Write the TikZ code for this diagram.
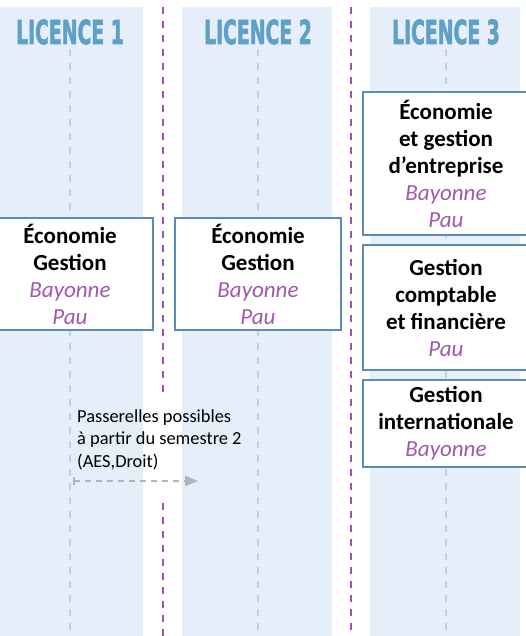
\documentclass[tikz,border=0pt]{standalone}
\usepackage{fontspec}
\setmainfont{Carlito}
\newfontfamily\titlefont{DejaVu Sans}[BoldFeatures={FakeBold=2.5}]
\usepackage{graphicx}
\usepackage{xcolor}
\usetikzlibrary{arrows.meta}
\definecolor{bandblue}{HTML}{E6EEFA}
\definecolor{titleblue}{HTML}{5FA0C8}
\definecolor{boxblue}{HTML}{5A8CB4}
\definecolor{axeblue}{HTML}{B9D2EB}
\definecolor{villepurple}{HTML}{A05AAA}
\definecolor{seppurple}{HTML}{A050B4}
\definecolor{passegray}{HTML}{B4B4B4}
\tikzstyle{sep}=[seppurple, line width=1.6pt, dash pattern=on 7pt off 7pt]
\tikzstyle{axe}=[axeblue, line width=1.3pt, dash pattern=on 7pt off 7pt]
\tikzstyle{titre}=[anchor=base, inner sep=0pt, text=titleblue, font=\titlefont\bfseries\fontsize{33}{33}\selectfont]
\tikzstyle{filiere}=[draw=boxblue, line width=1.5pt, fill=white, minimum width=166pt, align=center, inner sep=2pt, font=\fontsize{23}{27}\selectfont\bfseries]
\tikzstyle{passe}=[anchor=base west, inner sep=0pt, align=left, font=\fontsize{18.4}{22.5}\selectfont]
\tikzstyle{passerelle}=[passegray, line width=1.6pt, dash pattern=on 6pt off 5pt, {Bar[width=8pt]}-{Triangle[length=13pt,width=10pt]}]
\newcommand{\ville}[1]{{\mdseries\itshape\color{villepurple}#1}}

\begin{document}
\begin{tikzpicture}[x=1pt,y=-1pt]
\useasboundingbox (0,0) rectangle (525,636);
\foreach \a/\b in {0/143.3,182.3/331.7,370.3/520} {
	\fill[bandblue] (\a,7) rectangle (\b,636);
}
% separateurs (le premier coupe par les passerelles)
\foreach \x/\y/\z in {163/7/395,163/503/636,351/7/636} {
	\draw[sep] (\x,\y) -- (\x,\z);
}
\foreach \x/\n in {70/1,258/2,446/3} {
	\draw[axe] (\x,49) -- (\x,636);
	\node[titre] (titre\n) at (\x,44) {\scalebox{0.57}[1]{LICENCE \n}};
}
% licence 1 et 2
\node[filiere, minimum height=112pt] (eco1) at (70,274) {Économie\\Gestion\\\ville{Bayonne}\\\ville{Pau}};
\node[filiere, minimum height=112pt] (eco2) at (258,274) {Économie\\Gestion\\\ville{Bayonne}\\\ville{Pau}};
% licence 3
\node[filiere, minimum height=143pt] (ege) at (446,163.5) {Économie\\et gestion\\d’entreprise\\\ville{Bayonne}\\\ville{Pau}};
\node[filiere, minimum height=125pt] (gcf) at (446,307.5) {Gestion\\comptable\\et financière\\\ville{Pau}};
\node[filiere, minimum height=87pt] (gi) at (446,423.5) {Gestion\\internationale\\\ville{Bayonne}};
% passerelles (base = derniere ligne)
\node[passe] (pas) at (77,467) {Passerelles possibles\\à partir du semestre 2\\(AES,Droit)};
\coordinate (depart) at (73,481);
\coordinate (arrivee) at (198,481);
\draw[passerelle] (depart) -- (arrivee);
\end{tikzpicture}
\end{document}
